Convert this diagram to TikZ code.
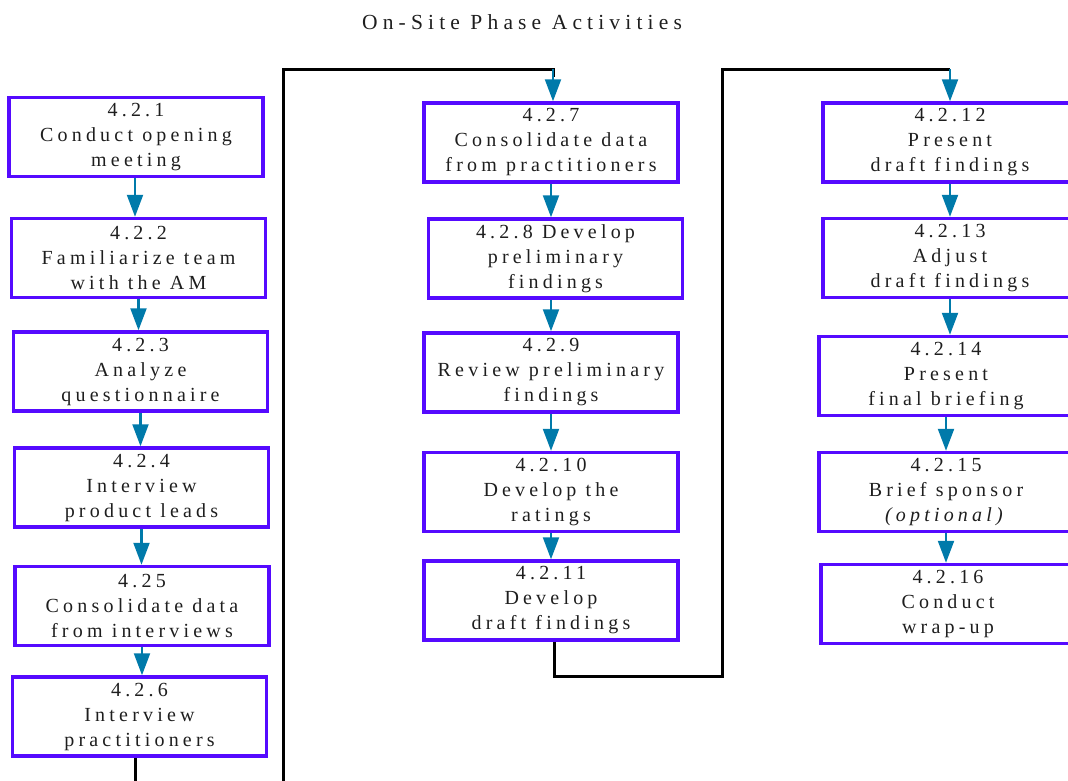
\documentclass[tikz,border=0pt]{standalone}
\usepackage{fontspec}
\setmainfont{Liberation Serif}
\newfontfamily\boxfont{Liberation Serif}[LetterSpace=21]
\newfontfamily\titlefont{Liberation Serif}[LetterSpace=24]
\usetikzlibrary{arrows.meta}
\definecolor{boxc}{RGB}{85,10,255}
\definecolor{arrc}{RGB}{0,122,170}
\definecolor{txtc}{RGB}{30,30,30}
\tikzset{
  stepbox/.style={draw=boxc, line width=3.5pt, minimum width=254pt, minimum height=79pt,
    inner sep=0pt, align=center, text=txtc, font=\boxfont\fontsize{20}{25}\selectfont},
  flow/.style={draw=arrc, line width=2.2pt, -{Triangle[length=22pt,width=16pt]}},
  link/.style={draw=black, line width=3pt},
}
\begin{document}
\begin{tikzpicture}[x=1pt,y=-1pt]
\useasboundingbox (0,0) rectangle (1068,780);
\node[text=txtc, font=\titlefont\fontsize{21.5}{25}\selectfont] (title) at (522,22) {On-Site Phase Activities};
% column 1
\node[stepbox] (b1) at (136,137) {4.2.1\\Conduct opening\\meeting};
\node[stepbox] (b2) at (138.5,258) {4.2.2\\Familiarize team\\with the AM};
\node[stepbox] (b3) at (140.5,371.5) {4.2.3\\Analyze\\questionnaire};
\node[stepbox] (b4) at (141.5,487.5) {4.2.4\\Interview\\product leads};
\node[stepbox] (b5) at (142,606) {4.25\\Consolidate data\\from interviews};
\node[stepbox] (b6) at (139.5,716.5) {4.2.6\\Interview\\practitioners};
% column 2
\node[stepbox] (b7) at (551,142.5) {4.2.7\\Consolidate data\\from practitioners};
\node[stepbox] (b8) at (555.5,258.5) {4.2.8 Develop\\preliminary\\findings};
\node[stepbox] (b9) at (551,372.5) {4.2.9\\Review preliminary\\findings};
\node[stepbox] (b10) at (551,492) {4.2.10\\Develop the\\ratings};
\node[stepbox] (b11) at (551,600.5) {4.2.11\\Develop\\draft findings};
% column 3
\node[stepbox] (b12) at (950,142.5) {4.2.12\\Present\\draft findings};
\node[stepbox] (b13) at (950,258) {4.2.13\\Adjust\\draft findings};
\node[stepbox] (b14) at (946,376) {4.2.14\\Present\\final briefing};
\node[stepbox] (b15) at (946,492) {4.2.15\\Brief sponsor\\\textit{(optional)}};
\node[stepbox] (b16) at (948,604) {4.2.16\\Conduct\\wrap-up};
% arrows within columns
\draw[flow] (b1.south -| 135,0) -- (b2.north -| 135,0);
\draw[flow] (b2.south) -- (b2.south |- b3.north);
\draw[flow] (b3.south) -- (b3.south |- b4.north);
\draw[flow] (b4.south) -- (b4.south |- b5.north);
\draw[flow] (b5.south) -- (b5.south |- b6.north);
\draw[flow] (b7.south) -- (b7.south |- b8.north);
\draw[flow] (b8.south -| b9.north) -- (b9.north);
\draw[flow] (b9.south) -- (b10.north);
\draw[flow] (b10.south) -- (b11.north);
\draw[flow] (b12.south) -- (b13.north);
\draw[flow] (b13.south) -- (b13.south |- b14.north);
\draw[flow] (b14.south) -- (b15.north);
\draw[flow] (b15.south) -- (b15.south |- b16.north);
% links between columns
\coordinate (t1) at (553,69);
\coordinate (t2) at (950,69);
\coordinate (d1) at (135,800);
\coordinate (d2) at (283,800);
\coordinate (u1) at (283,69);
\coordinate (s2) at (554,676);
\coordinate (r2) at (722,676);
\coordinate (u2) at (722,69);
\draw[link] (b6.south -| d1) -- (d1) -- (d2) -- (u1) -- (t1) -- ++(0,8);
\draw[flow] (t1) -- (b7.north -| t1);
\draw[link] (b11.south -| s2) -- (s2) -- (r2) -- (u2) -- (t2);
\draw[flow] (t2) -- (b12.north);
\end{tikzpicture}
\end{document}
